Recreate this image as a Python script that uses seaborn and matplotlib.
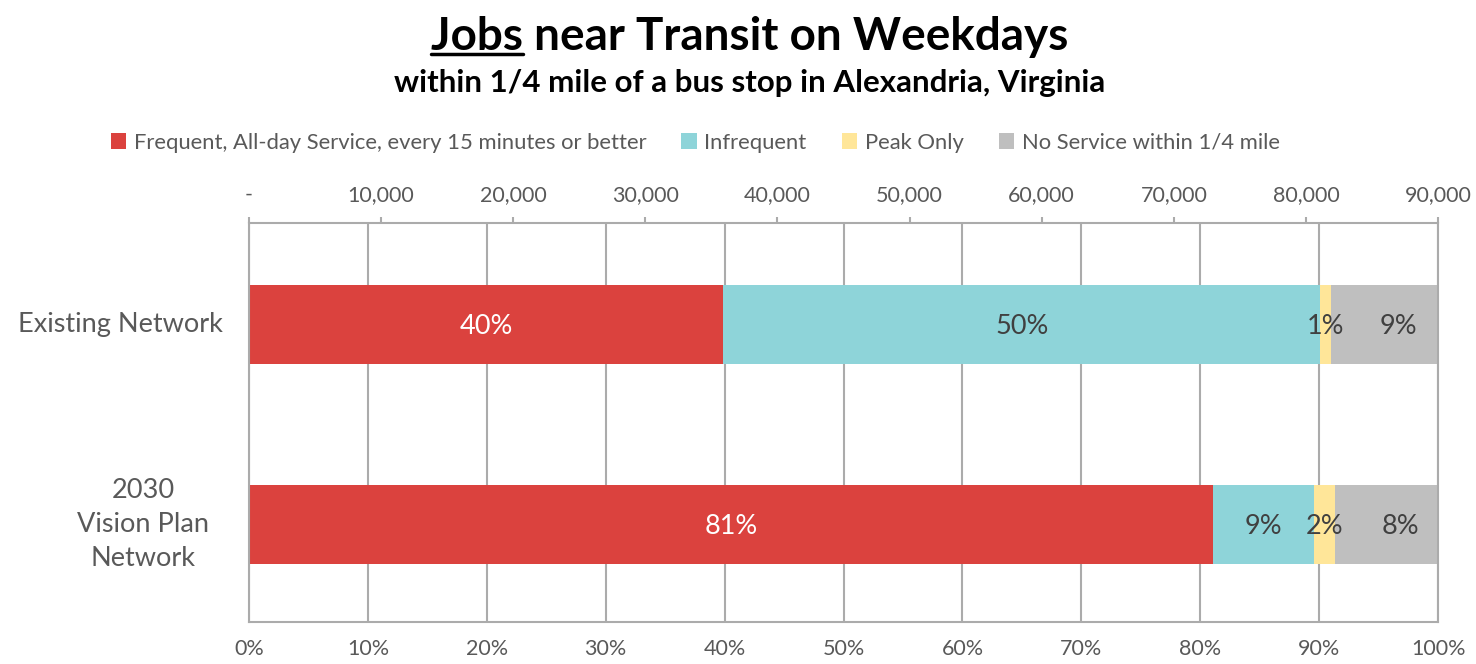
import numpy as np
import pandas as pd
import seaborn as sns
import matplotlib.pyplot as plt
from matplotlib.patches import Patch
from matplotlib.lines import Line2D
from matplotlib.ticker import FuncFormatter

# Données (parts des emplois, en %)
networks = ['Existing Network', '2030\nVision Plan\nNetwork']
services = ['Frequent, All-day Service, every 15 minutes or better',
            'Infrequent', 'Peak Only', 'No Service within 1/4 mile']
frequent = [39.9, 81.1]
infrequent = [50.2, 8.5]
peak_only = [0.9, 1.7]
no_service = [9.0, 8.7]
labels_frequent = ['40%', '81%']
labels_infrequent = ['50%', '9%']
labels_peak = ['1%', '2%']
labels_none = ['9%', '8%']
pct_ticks = list(range(0, 101, 10))
jobs_ticks = list(range(0, 90001, 10000))

colors = ['#DB423E', '#8ED4D9', '#FFE699', '#BFBFBF']
txt = '#595959'
grid_c = '#ABABAB'

df = pd.DataFrame({'network': networks, 'frequent': frequent,
                   'infrequent': infrequent, 'peak': peak_only, 'none': no_service})
cols = ['frequent', 'infrequent', 'peak', 'none']
cum = df[cols].cumsum(axis=1)

sns.set_theme(style='white')
plt.rcParams['font.family'] = ['Lato', 'DejaVu Sans']

fig = plt.figure(figsize=(14.76, 6.64), dpi=100)
ax = fig.add_axes([0.1687, 0.0633, 0.8056, 0.6009])
ax.set_axisbelow(True)

# barres empilées : on trace les cumuls du plus grand au plus petit
for col, c in reversed(list(zip(cols, colors))):
    d = pd.DataFrame({'network': networks, 'val': cum[col]})
    sns.barplot(data=d, x='val', y='network', color=c, saturation=1,
                width=0.395, errorbar=None, linewidth=0, orient='h', ax=ax)

ax.set_xlim(0, 100)
ax.set_ylim(1.485, -0.51)
ax.set_xlabel('')
ax.set_ylabel('')
ax.set_xticks(pct_ticks)
ax.set_xticklabels([f'{t}%' for t in pct_ticks])
ax.tick_params(axis='x', length=0, pad=12, labelsize=15.5, labelcolor=txt)
ax.tick_params(axis='y', length=0, labelleft=False)
ax.grid(axis='x', color=grid_c, linewidth=1.5)
ax.grid(axis='y', visible=False)
for s in ['left', 'bottom', 'right']:
    ax.spines[s].set_color(grid_c)
    ax.spines[s].set_linewidth(1.5)
ax.spines['top'].set_visible(False)

# étiquettes des segments
all_labels = [labels_frequent, labels_infrequent, labels_peak, labels_none]
for k, col in enumerate(cols):
    left = cum[col] - df[col]
    for i in range(len(networks)):
        xc = left[i] + df[col][i] / 2
        if col == 'none':
            xc += 1.2
        ax.text(xc, i + 0.01, all_labels[k][i], ha='center', va='center', fontsize=19.5,
                color='white' if col == 'frequent' else '#404040')

# libellés des catégories
ycenters = [-0.1085, -0.089]
for i, name in enumerate(networks):
    ax.text(ycenters[i], i, name, transform=ax.get_yaxis_transform(), ha='center',
            va='center', multialignment='center', fontsize=19.5, color=txt, linespacing=1.45)

# axe secondaire : nombre d'emplois
ax2 = ax.twiny()
ax2.set_xlim(0, 90000)
ax2.set_xticks(jobs_ticks)
ax2.xaxis.set_major_formatter(FuncFormatter(lambda v, p: '-' if v == 0 else f'{int(v):,}'))
ax2.tick_params(axis='x', direction='out', length=4, width=1.5, color=grid_c,
                pad=9, labelsize=15.5, labelcolor=txt)
for s in ['left', 'bottom', 'right']:
    ax2.spines[s].set_visible(False)
ax2.spines['top'].set_color(grid_c)
ax2.spines['top'].set_linewidth(1.5)
ax2.grid(False)

# légende
handles = [Patch(facecolor=c, edgecolor='none') for c in colors]
fig.legend(handles, services, loc='center', bbox_to_anchor=(0.471, 0.785), ncol=4,
           frameon=False, fontsize=15.8, handlelength=0.7, handleheight=0.7,
           handletextpad=0.35, columnspacing=1.6, labelcolor=txt)

# titres
title = fig.text(0.508, 0.945, 'Jobs near Transit on Weekdays', ha='center', va='center',
                 fontsize=33, fontweight='bold', color='black')
fig.text(0.508, 0.875, 'within 1/4 mile of a bus stop in Alexandria, Virginia',
         ha='center', va='center', fontsize=22.5, fontweight='bold', color='black')

# soulignement de "Jobs"
fig.canvas.draw()
r = fig.canvas.get_renderer()
bb = title.get_window_extent(r)
tmp = fig.text(0, 0, 'Jobs', fontsize=33, fontweight='bold')
w = tmp.get_window_extent(r).width
tmp.remove()
W, H = fig.bbox.width, fig.bbox.height
yl = (bb.y0 + 4) / H
fig.add_artist(Line2D([bb.x0 / W, (bb.x0 + w) / W], [yl, yl], color='black', linewidth=2.5))

fig.savefig('out.png', dpi=100)
